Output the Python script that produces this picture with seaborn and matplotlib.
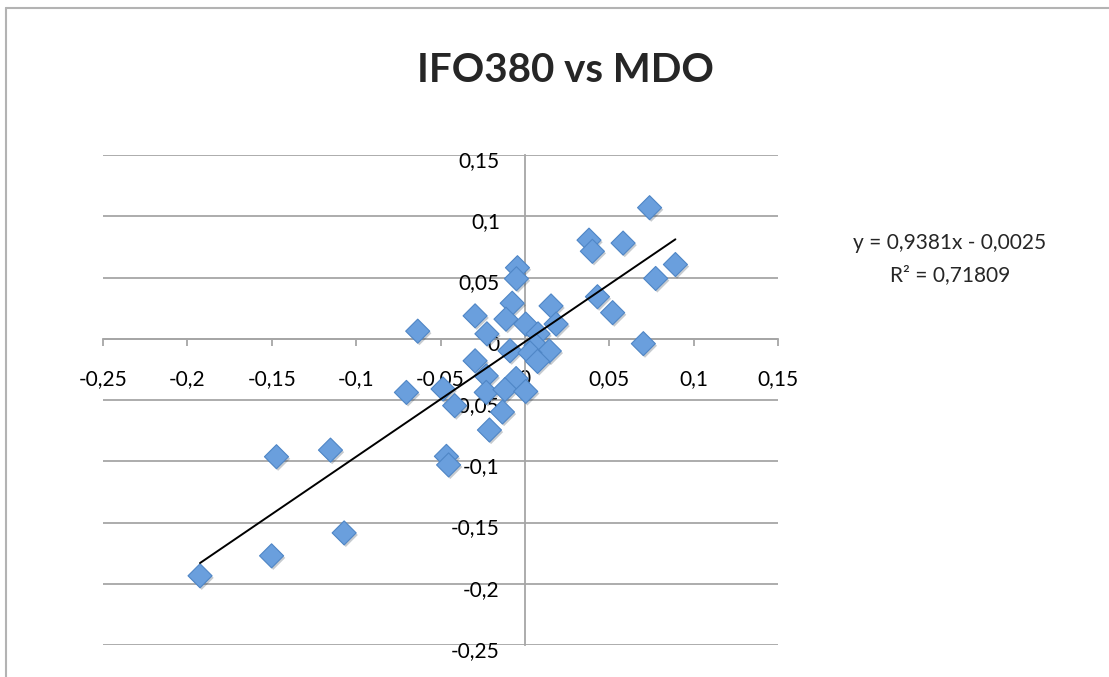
import numpy as np
import pandas as pd
import matplotlib
matplotlib.use("Agg")
import matplotlib.pyplot as plt
import matplotlib.patheffects as pe
import matplotlib.transforms as mtransforms
from matplotlib.lines import Line2D
from matplotlib.ticker import FixedLocator, FuncFormatter
import seaborn as sns

# Данные
ifo380 = [0.0739, 0.0380, 0.0400, 0.0582, 0.0892, 0.0775, -0.0044, -0.0050,
          0.0430, 0.0520, 0.0702, -0.0075, 0.0155, -0.0295, -0.0112, 0.0005,
          0.0185, -0.0635, -0.0225, 0.0078, -0.0088, 0.0066, 0.0145, 0.0030,
          0.0075, -0.0295, -0.0229, -0.0052, -0.0485, -0.0702, -0.0416, -0.0229,
          -0.0118, 0.0005, -0.0133, -0.0210, -0.0465, -0.0452, -0.1472, -0.1152,
          -0.1071, -0.1501, -0.1925]
mdo = [0.1070, 0.0805, 0.0714, 0.0781, 0.0606, 0.0492, 0.0580, 0.0490,
       0.0343, 0.0213, -0.0040, 0.0290, 0.0268, 0.0187, 0.0160, 0.0120,
       0.0120, 0.0062, 0.0040, 0.0040, -0.0098, -0.0055, -0.0100, -0.0115,
       -0.0185, -0.0180, -0.0303, -0.0325, -0.0410, -0.0438, -0.0546, -0.0438,
       -0.0415, -0.0430, -0.0598, -0.0745, -0.0960, -0.1030, -0.0963, -0.0909,
       -0.1585, -0.1772, -0.1935]
slope = 0.9381
intercept = -0.0025
r2 = 0.71809
ticks = [-0.25, -0.2, -0.15, -0.1, -0.05, 0, 0.05, 0.1, 0.15]

df = pd.DataFrame({"IFO380": ifo380, "MDO": mdo})

sns.set_style("white")
plt.rcParams['font.family'] = ['Lato', 'DejaVu Sans']

fig = plt.figure(figsize=(11.09, 6.77), dpi=100)
ax = fig.add_axes([103 / 1109, 1 - 645 / 677, 675 / 1109, 490 / 677])

grid_col = '#a6a6a6'

sns.scatterplot(data=df, x="IFO380", y="MDO", marker='D', s=150,
                color='#6a9fdd', edgecolor='#4f86c6', linewidth=0.8,
                ax=ax, zorder=3,
                path_effects=[pe.SimplePatchShadow(offset=(1.2, -1.5), alpha=0.25),
                              pe.Normal()])

# Линия тренда
xs = np.array([min(ifo380), max(ifo380)])
ax.plot(xs, slope * xs + intercept, color='black', lw=1.4, zorder=4)

ax.set_xlim(-0.25, 0.15)
ax.set_ylim(-0.25, 0.15)

fmt = FuncFormatter(lambda v, p: f"{v:g}".replace('.', ','))
ax.xaxis.set_major_locator(FixedLocator(ticks))
ax.yaxis.set_major_locator(FixedLocator(ticks))
ax.xaxis.set_major_formatter(fmt)
ax.yaxis.set_major_formatter(fmt)

for s in ['top', 'right']:
    ax.spines[s].set_visible(False)
ax.spines['left'].set_position(('data', 0))
ax.spines['bottom'].set_position(('data', 0))
for s in ['left', 'bottom']:
    ax.spines[s].set_color(grid_col)
    ax.spines[s].set_linewidth(1.3)

ax.yaxis.grid(True, color=grid_col, lw=1.3)
ax.xaxis.grid(False)
ax.set_axisbelow(True)

ax.tick_params(axis='x', direction='out', length=5, width=1.3, color=grid_col,
               pad=17, labelsize=15, labelcolor='black', bottom=True)
ax.tick_params(axis='y', length=0, pad=18, labelsize=15, labelcolor='black', left=True)
ax.set_xlabel("")
ax.set_ylabel("")

# подписи оси Y в Excel чуть ниже линий сетки
shift = mtransforms.ScaledTranslation(0, -4 / 100, fig.dpi_scale_trans)
for t in ax.yaxis.get_major_ticks():
    t.label1.set_transform(t.label1.get_transform() + shift)

fig.text(565 / 1109, 1 - 70 / 677, "IFO380 vs MDO", fontsize=29, fontweight='bold',
         ha='center', va='center')

fig.text(950 / 1109, 1 - 243 / 677, f"y = {slope:.4f}x - {abs(intercept):.4f}".replace('.', ','),
         fontsize=15, ha='center', va='center')
fig.text(950 / 1109, 1 - 275 / 677, f"R² = {r2:.5f}".replace('.', ','),
         fontsize=15, ha='center', va='center')

# Рамка области диаграммы
fig.add_artist(Line2D([5.5 / 1109, 5.5 / 1109], [0, 1 - 8 / 677], color='#b3b3b3', lw=1.5))
fig.add_artist(Line2D([5.5 / 1109, 1], [1 - 8 / 677, 1 - 8 / 677], color='#b3b3b3', lw=1.5))

fig.savefig("out.png", dpi=100)
